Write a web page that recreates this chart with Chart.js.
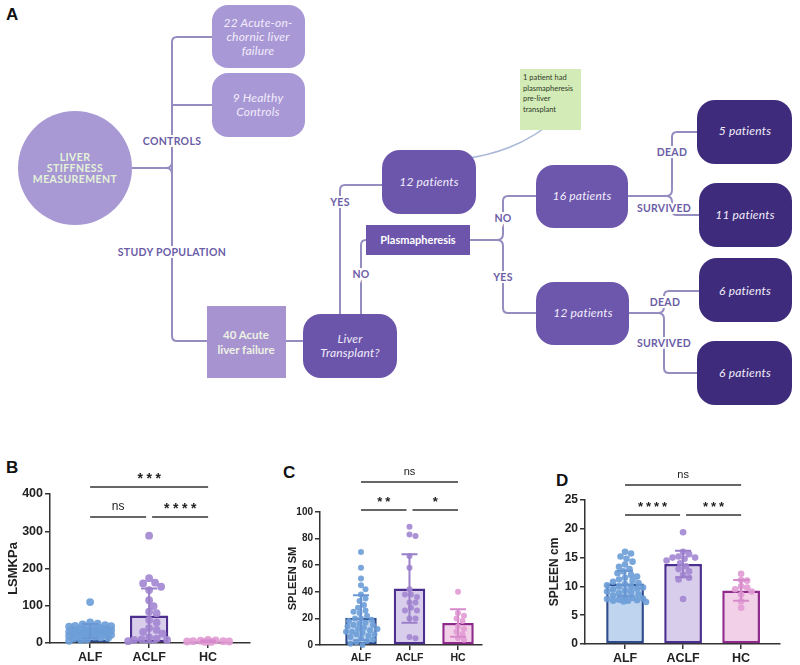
<!DOCTYPE html>
<html>
<head>
<meta charset="utf-8">
<script src="https://cdn.jsdelivr.net/npm/chart.js@4.4.1/dist/chart.umd.min.js"></script>
<style>
  body { margin: 0; background: #fff; width: 800px; height: 665px; position: relative; overflow: hidden; }
  canvas { position: absolute; top: 455px; }
  .lt { position: absolute; font: bold 17px "Liberation Sans", Arial, sans-serif; color: #111; }
</style>
</head>
<body>

<!-- panel A: flow chart of the cohort -->
<svg width="800" height="450" style="position:absolute;left:0;top:0" font-family="Lato, 'Open Sans', sans-serif">
  <g fill="none" stroke="#958dc0" stroke-width="2">
    <path d="M212 37 H177 Q172 37 172 42 V336 Q172 341 177 341 H207"/>
    <path d="M172 105 H212"/>
    <path d="M132 168 H166 Q172 168 172 162 M166 168 Q172 168 172 174"/>
    <path d="M286 341 H303"/>
    <path d="M340 314 V190 Q340 185 345 185 H382"/>
    <path d="M361 314 V245 Q361 240 366 240"/>
    <path d="M470 240 H497 Q503 240 503 234 V201 Q503 196 508 196 H536 M497 240 Q503 240 503 246 V308 Q503 313 508 313 H536"/>
    <path d="M628 196 H666 Q672 196 672 190 V137 Q672 132 677 132 H697 M666 196 Q672 196 672 202 V210 Q672 215 677 215 H699"/>
    <path d="M629 313 H658 Q664 313 664 307 V296 Q664 291 669 291 H699 M658 313 Q664 313 664 319 V368 Q664 373 669 373 H697"/>
    <path d="M462 159 Q520 152 558 117" stroke="#a9b8d8" stroke-width="1.5"/>
  </g>

  <text x="6" y="20" font-family="'Liberation Sans', Arial" font-weight="bold" font-size="17" fill="#111">A</text>

  <circle cx="75" cy="168" r="57" fill="#a898d4"/>
  <rect x="212" y="5" width="93" height="63" rx="16" fill="#a998d6"/>
  <rect x="212" y="73" width="93" height="64" rx="16" fill="#a998d6"/>
  <rect x="207" y="306" width="79" height="72" fill="#a693d0"/>
  <rect x="303" y="314" width="94" height="64" rx="18" fill="#6b55aa"/>
  <rect x="382" y="150" width="94" height="64" rx="18" fill="#6c56ac"/>
  <rect x="366" y="225" width="104" height="30" fill="#6c55ab"/>
  <rect x="536" y="165" width="92" height="63" rx="18" fill="#6c57ad"/>
  <rect x="536" y="282" width="93" height="63" rx="18" fill="#6c57ad"/>
  <rect x="697" y="100" width="95" height="64" rx="18" fill="#3e2b7b"/>
  <rect x="699" y="183" width="93" height="64" rx="18" fill="#3e2b7b"/>
  <rect x="699" y="258" width="93" height="64" rx="18" fill="#3e2b7b"/>
  <rect x="697" y="341" width="95" height="64" rx="18" fill="#3e2b7b"/>
  <rect x="520" y="69" width="61" height="61" fill="#d3ebb6"/>

  <g font-weight="bold" font-size="10.5" fill="#e4f3d8" text-anchor="middle" letter-spacing="0.4">
    <text x="75" y="161">LIVER</text>
    <text x="75" y="172">STIFFNESS</text>
    <text x="75" y="183">MEASUREMENT</text>
  </g>
  <g font-style="italic" font-size="12" fill="#f1ecfa" text-anchor="middle" letter-spacing="0.2">
    <text x="258" y="27">22 Acute-on-</text>
    <text x="258" y="41">chornic liver</text>
    <text x="258" y="55">failure</text>
    <text x="258" y="102">9 Healthy</text>
    <text x="258" y="116">Controls</text>
    <text x="350" y="343">Liver</text>
    <text x="350" y="357">Transplant?</text>
    <text x="429" y="186">12 patients</text>
    <text x="582" y="200">16 patients</text>
    <text x="583" y="317">12 patients</text>
    <text x="745" y="135">5 patients</text>
    <text x="745" y="219">11 patients</text>
    <text x="745" y="295">6 patients</text>
    <text x="745" y="377">6 patients</text>
  </g>
  <g font-weight="bold" font-size="11.5" fill="#eef2e4" text-anchor="middle">
    <text x="246" y="339">40 Acute</text>
    <text x="246" y="354">liver failure</text>
  </g>
  <text x="418" y="244" font-weight="bold" font-size="11" fill="#ffffff" text-anchor="middle">Plasmapheresis</text>
  <g font-size="7.5" fill="#2f3a2a">
    <text x="523" y="80">1 patient had</text>
    <text x="523" y="91">plasmapheresis</text>
    <text x="523" y="101">pre-liver</text>
    <text x="523" y="112">transplant</text>
  </g>
  <g font-weight="bold" font-size="10.5" fill="#6b5da6" text-anchor="middle" stroke="#fff" stroke-width="4" paint-order="stroke" letter-spacing="0.3">
    <text x="172" y="145">CONTROLS</text>
    <text x="172" y="256">STUDY POPULATION</text>
    <text x="340" y="206">YES</text>
    <text x="361" y="278">NO</text>
    <text x="503" y="222">NO</text>
    <text x="503" y="281">YES</text>
    <text x="672" y="156">DEAD</text>
    <text x="664" y="212">SURVIVED</text>
    <text x="665" y="306">DEAD</text>
    <text x="664" y="347">SURVIVED</text>
  </g>
</svg>

<div class="lt" style="left:6px;top:458px">B</div>
<div class="lt" style="left:283px;top:463px">C</div>
<div class="lt" style="left:556px;top:471px">D</div>

<canvas id="chartB" width="265" height="210" style="left:0"></canvas>
<canvas id="chartC" width="265" height="210" style="left:265px"></canvas>
<canvas id="chartD" width="270" height="210" style="left:530px"></canvas>

<script>
const groups = ['ALF', 'ACLF', 'HC'];

// B - liver stiffness (kPa)
const lsmAlf = [110, 55, 52, 50, 48, 46, 45, 44, 42, 40, 40, 38, 37, 36, 35, 34, 33, 32, 31, 30,
                30, 29, 28, 27, 26, 25, 24, 23, 22, 21, 20, 19, 18, 17, 15, 14, 12, 10, 8, 6];
const lsmAclf = [288, 174, 162, 160, 151, 142, 115, 99, 84, 80, 62, 55, 40, 35, 30, 25, 15, 12, 10, 8, 8, 5];
const lsmHc = [8, 7, 6, 5, 5, 4, 4, 3, 3];
const lsmMean = [32, 74, 5];
const lsmSd = [19, 72, 2];
const lsmTicks = [0, 100, 200, 300, 400];
const lsmSig = [[0, 1, 'ns', 0], [1, 2, '****', 0], [0, 2, '***', 1]];

// C - spleen stiffness
const ssmAlf = [70, 58, 50, 45, 42, 38, 35, 33, 30, 28, 26, 25, 24, 22, 20, 20, 19, 18, 17, 16,
                15, 15, 14, 13, 12, 12, 11, 10, 10, 9, 8, 8, 7, 6, 5, 4, 3, 2, 1, 0];
const ssmAclf = [89, 83, 82, 67, 58, 42, 38, 38, 36, 32, 32, 28, 26, 26, 20, 20, 6, 5];
const ssmHc = [40, 24, 22, 20, 18, 14, 12, 10, 8, 5, 4];
const ssmMean = [20.5, 42.5, 16.5];
const ssmSd = [17, 25.8, 10.3];
const ssmTicks = [0, 20, 40, 60, 80, 100];
const ssmSig = [[0, 1, '**', 0], [1, 2, '*', 0], [0, 2, 'ns', 1]];

// D - spleen size (cm)
const sizeAlf = [16, 15.7, 15.2, 14.8, 14.3, 13.8, 13.4, 13, 12.6, 12.3, 12, 11.7, 11.5, 11.2, 11, 10.8, 10.6, 10.4, 10.2, 10,
                 10, 9.8, 9.6, 9.5, 9.3, 9.1, 9, 8.8, 8.6, 8.4, 8.2, 8, 7.9, 7.8, 7.7, 7.6, 7.5, 7.5, 7.4, 7.3];
const sizeAclf = [19.4, 16.0, 15.6, 15.2, 15.0, 15.0, 14.8, 14.5, 14.0, 13.5, 13.0, 12.6, 12.0, 11.5, 11.2, 7.8];
const sizeHc = [12.2, 11.1, 11.0, 10.0, 9.8, 9.5, 9.1, 8.6, 7.4, 6.3];
const sizeMean = [10.5, 13.9, 9.3];
const sizeSd = [2.2, 2.3, 1.8];
const sizeTicks = [0, 5, 10, 15, 20, 25];
const sizeSig = [[0, 1, '****', 0], [1, 2, '***', 0], [0, 2, 'ns', 1]];

const barFill = ['#bfd4ef', '#d8cdeb', '#f2d0e8'];
const barLine = ['#2c4a8c', '#4b2e8e', '#8f2a8c'];
const dotColor = ['rgba(110,158,216,0.92)', 'rgba(164,136,210,0.92)', 'rgba(226,156,212,0.92)'];
const errColor = ['#6a96d4', '#9a7fc9', '#d68acb'];

const FONT = '"Liberation Sans", Arial, sans-serif';

const extras = {
  id: 'extras',
  afterDatasetsDraw(chart, args, o) {
    const { ctx, chartArea } = chart;
    const x = chart.scales.x, y = chart.scales.y;
    ctx.save();
    o.mean.forEach((m, i) => {
      const cx = x.getPixelForValue(i);
      const top = y.getPixelForValue(m + o.sd[i]);
      const bot = y.getPixelForValue(Math.max(0, m - o.sd[i]));
      ctx.strokeStyle = errColor[i];
      ctx.lineWidth = 2;
      ctx.beginPath();
      ctx.moveTo(cx, top); ctx.lineTo(cx, bot);
      ctx.moveTo(cx - o.cap, top); ctx.lineTo(cx + o.cap, top);
      if (m - o.sd[i] > 0) { ctx.moveTo(cx - o.cap, bot); ctx.lineTo(cx + o.cap, bot); }
      ctx.stroke();
    });
    ctx.strokeStyle = '#333';
    ctx.fillStyle = '#222';
    ctx.lineWidth = 1.5;
    ctx.textAlign = 'center';
    ctx.textBaseline = 'middle';
    o.sig.forEach(([a, b, label, lev]) => {
      const ly = chartArea.top + o.levels[lev];
      const x1 = x.getPixelForValue(a) + (a === 1 ? 3 : 0);
      const x2 = x.getPixelForValue(b) - (b === 1 ? 3 : 0);
      ctx.beginPath(); ctx.moveTo(x1, ly); ctx.lineTo(x2, ly); ctx.stroke();
      const mid = (x1 + x2) / 2;
      if (label === 'ns') {
        ctx.font = o.nsSize + 'px ' + FONT;
        ctx.fillText('ns', mid, ly - 10);
      } else {
        ctx.font = 'bold ' + o.starSize + 'px ' + FONT;
        const n = label.length;
        for (let k = 0; k < n; k++) {
          ctx.fillText('*', mid + (k - (n - 1) / 2) * o.starStep, ly - 8);
        }
      }
    });
    ctx.restore();
  }
};

// spread the dots sideways so they do not sit on top of each other
function swarm(chart, r) {
  const xs = chart.scales.x, ys = chart.scales.y;
  const unit = xs.getPixelForValue(1) - xs.getPixelForValue(0);
  chart.data.datasets.filter(d => d.type === 'scatter').forEach(ds => {
    const placed = [];
    const idx = ds.data.map((p, i) => i).sort((a, b) => ds.data[b].y - ds.data[a].y);
    idx.forEach(i => {
      const p = ds.data[i];
      const py = ys.getPixelForValue(p.y);
      let best = 0, bestD = -1;
      for (let k = 0; k < 200; k++) {
        const dx = (k % 2 ? 1 : -1) * Math.ceil(k / 2) * 1.5;
        if (Math.abs(dx) > unit * 0.38) break;
        let dmin = Infinity;
        placed.forEach(q => { dmin = Math.min(dmin, Math.hypot(q[0] - dx, q[1] - py)); });
        if (dmin >= 2 * r * 0.9) { best = dx; bestD = Infinity; break; }
        if (dmin > bestD) { bestD = dmin; best = dx; }
      }
      placed.push([best, py]);
      p.x = p.x + best / unit;
    });
  });
  chart.update('none');
}

function makeChart(id, cfg) {
  const datasets = [cfg.alf, cfg.aclf, cfg.hc].map((vals, gi) => ({
    type: 'scatter',
    data: vals.map(v => ({ x: gi, y: v })),
    backgroundColor: dotColor[gi],
    borderWidth: 0,
    pointRadius: cfg.r,
    order: 1,
    clip: false
  }));
  datasets.push({
    type: 'bar',
    data: cfg.mean.map((m, i) => ({ x: i, y: m })),
    backgroundColor: barFill,
    borderColor: barLine,
    borderWidth: 2.5,
    borderSkipped: false,
    barPercentage: 0.65,
    categoryPercentage: 1,
    order: 2,
    clip: false
  });
  const chart = new Chart(document.getElementById(id), {
    type: 'bar',
    data: { datasets },
    options: {
      responsive: false,
      animation: false,
      devicePixelRatio: 1,
      layout: { padding: cfg.pad },
      plugins: {
        legend: { display: false },
        tooltip: { enabled: false },
        extras: { mean: cfg.mean, sd: cfg.sd, sig: cfg.sig, levels: cfg.levels, cap: 8,
                  nsSize: cfg.nsSize, starSize: cfg.starSize, starStep: cfg.starStep }
      },
      scales: {
        x: {
          type: 'linear', min: cfg.xMin, max: cfg.xMax, offset: false,
          afterBuildTicks: s => { s.ticks = groups.map((g, i) => ({ value: i })); },
          afterFit: s => { s.height = cfg.xh; },
          ticks: { callback: v => groups[v], color: '#222', padding: 2, autoSkip: false, maxRotation: 0,
                   font: { family: FONT, weight: 'bold', size: cfg.xFont } },
          grid: { drawOnChartArea: false, tickLength: 5, color: '#333', lineWidth: 1.5, offset: false },
          border: { color: '#333', width: 1.5 }
        },
        y: {
          min: 0, max: cfg.ticks[cfg.ticks.length - 1],
          afterBuildTicks: s => { s.ticks = cfg.ticks.map(v => ({ value: v })); },
          afterFit: s => { s.width = cfg.yw; },
          ticks: { color: '#222', padding: 2, font: { family: FONT, weight: 'bold', size: cfg.yFont } },
          grid: { drawOnChartArea: false, tickLength: 5, color: '#333', lineWidth: 1.5 },
          border: { color: '#333', width: 1.5 },
          title: { display: true, text: cfg.title, color: '#222', padding: { top: cfg.titlePad, bottom: 0 },
                   font: { family: FONT, weight: 'bold', size: cfg.titleFont } }
        }
      }
    },
    plugins: [extras]
  });
  swarm(chart, cfg.r);
  return chart;
}

makeChart('chartB', {
  alf: lsmAlf, aclf: lsmAclf, hc: lsmHc, mean: lsmMean, sd: lsmSd, ticks: lsmTicks, sig: lsmSig,
  title: 'LSMKPa', titleFont: 13, titlePad: 6, xFont: 12.5, yFont: 12.5,
  levels: [23, -7], nsSize: 12, starSize: 14, starStep: 9,
  xMin: -0.68, xMax: 2.71, xh: 22, yw: 50, r: 3.9,
  pad: { top: 39, right: 15, left: 0, bottom: 0 }
});

makeChart('chartC', {
  alf: ssmAlf, aclf: ssmAclf, hc: ssmHc, mean: ssmMean, sd: ssmSd, ticks: ssmTicks, sig: ssmSig,
  title: 'SPLEEN SM', titleFont: 11, titlePad: 21, xFont: 10.5, yFont: 10,
  levels: [-2, -30], nsSize: 11, starSize: 13, starStep: 8,
  xMin: -0.845, xMax: 2.495, xh: 20, yw: 55, r: 3,
  pad: { top: 57, right: 48, left: 0, bottom: 0 }
});

makeChart('chartD', {
  alf: sizeAlf, aclf: sizeAclf, hc: sizeHc, mean: sizeMean, sd: sizeSd, ticks: sizeTicks, sig: sizeSig,
  title: 'SPLEEN cm', titleFont: 12, titlePad: 17, xFont: 12.5, yFont: 12,
  levels: [15, -15], nsSize: 11, starSize: 13, starStep: 8,
  xMin: -0.69, xMax: 2.67, xh: 21, yw: 55, r: 3.3,
  pad: { top: 45, right: 20, left: 0, bottom: 0 }
});
</script>
</body>
</html>
